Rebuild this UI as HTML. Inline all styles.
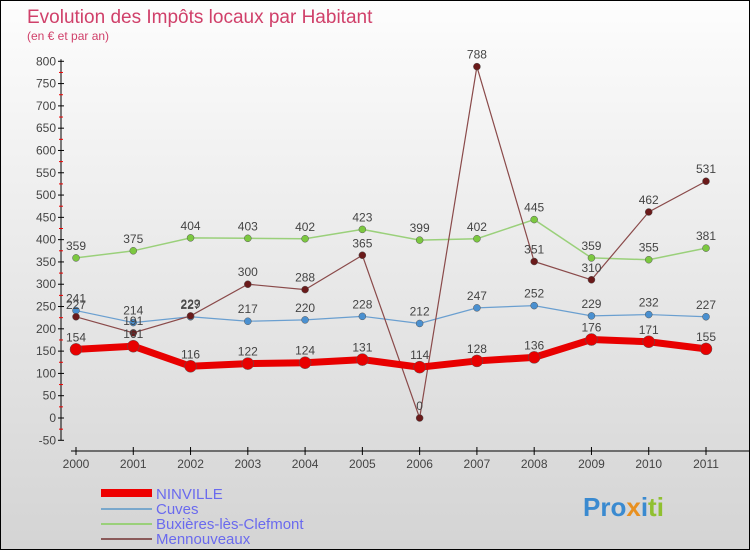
<!DOCTYPE html>
<html><head><meta charset="utf-8"><style>
body{margin:0}
#c{position:relative;width:748px;height:548px;border:1px solid #000;background:linear-gradient(#fdfdfd,#d4d4d4);font-family:"Liberation Sans",sans-serif;overflow:hidden}
</style></head><body>
<div id="c">
<svg width="748" height="548" id="s">
<text x="26" y="22" font-size="19" fill="#d0406a">Evolution des Impôts locaux par Habitant</text>
<text x="26" y="39" font-size="12" fill="#d0406a">(en € et par an)</text>
<g id="ax"></g><g id="ser"></g>
<g>
<rect x="100" y="488" width="51" height="8" fill="#e00"/>
<text x="155" y="498" font-size="15" fill="#6a6aee">NINVILLE</text>
<rect x="100" y="507" width="51" height="2" fill="#7aa8cc"/>
<text x="155" y="513" font-size="15" fill="#6a6aee">Cuves</text>
<rect x="100" y="522" width="51" height="2" fill="#9ad07a"/>
<text x="155" y="528" font-size="15" fill="#6a6aee">Buxières-lès-Clefmont</text>
<rect x="100" y="537" width="51" height="2" fill="#8a5a5a"/>
<text x="155" y="543" font-size="15" fill="#6a6aee">Mennouveaux</text>
</g>
<text x="582" y="515" font-size="26" font-weight="bold"><tspan fill="#3a8ad0">Pro</tspan><tspan fill="#e89020">x</tspan><tspan fill="#3a8ad0">i</tspan><tspan fill="#90c030">ti</tspan></text>
</svg></div>
<script>
const years=[2000,2001,2002,2003,2004,2005,2006,2007,2008,2009,2010,2011];
const yTicks=[-50,0,50,100,150,200,250,300,350,400,450,500,550,600,650,700,750,800];
const ninville=[154,161,116,122,124,131,114,128,136,176,171,155];
const cuves=[241,214,227,217,220,228,212,247,252,229,232,227];
const buxieres=[359,375,404,403,402,423,399,402,445,359,355,381];
const mennouveaux=[227,191,229,300,288,365,0,788,351,310,462,531];
const NS="http://www.w3.org/2000/svg";
const X=i=>75+i*(630/11);
const Y=v=>417-v*(379/850);
function mk(t,a,p){const e=document.createElementNS(NS,t);for(const k in a)e.setAttribute(k,a[k]);p.appendChild(e);return e;}
const ax=document.getElementById('ax'),ser=document.getElementById('ser');
let l=mk('line',{x1:60,y1:Y(800)-2,x2:60,y2:Y(-50),stroke:'#000'},ax);


yTicks.forEach(v=>{
 const t=mk('line',{x1:57,x2:63,y1:Y(v),y2:Y(v),stroke:'#000'},ax);
 
 
 if(v<800){const m=mk('line',{x1:58,x2:62,y1:Y(v+25),y2:Y(v+25),stroke:'#e00'},ax);
 
 }
 const tx=mk('text',{x:55,y:Y(v)+4,'font-size':12,fill:'#444','text-anchor':'end'},ax);tx.textContent=v;
 
 
});
l=mk('line',{x1:70,y1:450,x2:748,y2:450,stroke:'#000'},ax);


years.forEach((y,i)=>{
 const t=mk('line',{x1:X(i),x2:X(i),y1:446,y2:454,stroke:'#000'},ax);
 
 
 const tx=mk('text',{x:X(i),y:467,'font-size':12,fill:'#444','text-anchor':'middle'},ax);tx.textContent=y;
 
 
});
function series(d,name,col,w,r,dot){
 const g=mk('g',{},ser);
 
 
 const p=mk('polyline',{points:d.map((v,i)=>X(i)+','+Y(v)).join(' '),fill:'none',stroke:col,'stroke-width':w},g);
 
 
 d.forEach((v,i)=>{
  const c=mk('circle',{cx:X(i),cy:Y(v),r:r,fill:dot,stroke:'#555','stroke-width':0.5},g);
  
  
  const t=mk('text',{x:X(i),y:Y(v)-8,'font-size':12,fill:'#444','text-anchor':'middle'},g);t.textContent=v;
  
  
 });
}
series(buxieres,'buxieres','#9ad07a',1.5,3.5,'#7cc840');
series(cuves,'cuves','#6a9fd0',1.2,3.5,'#4a90d0');
series(mennouveaux,'mennouveaux','#8a4a4a',1.2,3.5,'#6a1a1a');
series(ninville,'ninville','#e80000',7,6,'#e80000');
</script>
</body></html>
